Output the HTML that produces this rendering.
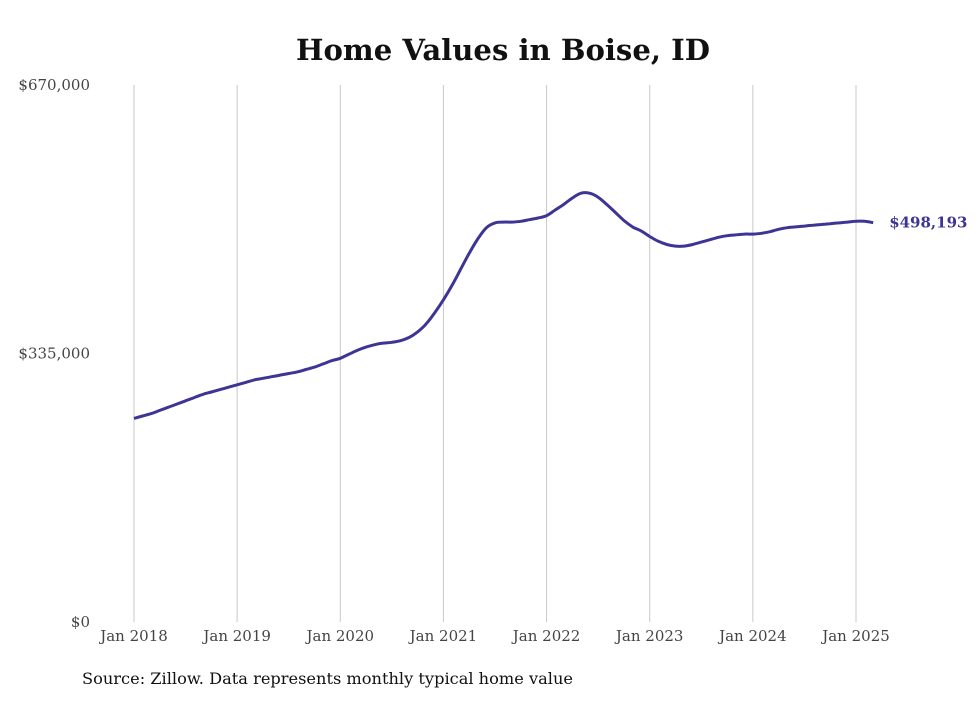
<!DOCTYPE html>
<html><head><meta charset="utf-8"><style>
body{margin:0;background:#fff;}
svg text{font-family:"DejaVu Serif","Liberation Serif",serif;}
</style></head><body>
<svg width="980" height="699" xmlns="http://www.w3.org/2000/svg" id="chart">
<text x="503" y="60" text-anchor="middle" font-size="29" font-weight="bold" fill="#111" textLength="414" lengthAdjust="spacingAndGlyphs">Home Values in Boise, ID</text>
<g id="grid"></g>
<g id="yaxis"></g>
<g id="xaxis"></g>
<g id="series"></g>
<text x="82" y="684" font-size="16" fill="#111" textLength="491" lengthAdjust="spacingAndGlyphs">Source: Zillow. Data represents monthly typical home value</text>
</svg>
<script>
const yTicks=[0,335000,670000];
const yTickLabels=["$0","$335,000","$670,000"];
const xTickLabels=["Jan 2018","Jan 2019","Jan 2020","Jan 2021","Jan 2022","Jan 2023","Jan 2024","Jan 2025"];
const values=[254,257,260,264,268,272,276,280,284,287,290,293,
296,299,302,304,306,308,310,312,315,318,322,326,
329,334,339,343,346,348,349,351,355,362,372,386,
402,420,440,460,478,492,498,499,499,500,502,504,
507,514,521,529,535,535,530,521,511,501,493,488,
481,475,471,469,469,471,474,477,480,482,483,484,
484,485,487,490,492,493,494,495,496,497,498,499,
500,500,498.193];
const lastLabel="$498,193";
const NS="http://www.w3.org/2000/svg";
const x=i=>134+i*(722/84);
const y=v=>622-v*(537/670000);
function mk(t,a,p){const e=document.createElementNS(NS,t);for(const k in a)e.setAttribute(k,a[k]);p.appendChild(e);return e;}
const grid=document.getElementById('grid'),ya=document.getElementById('yaxis'),xa=document.getElementById('xaxis'),se=document.getElementById('series');
xTickLabels.forEach((l,i)=>{
 const gx=x(i*12);
 const ln=mk('line',{x1:gx,x2:gx,y1:85,y2:622,stroke:'#c8c8c8','stroke-width':1},grid);
 
 
 const t=mk('text',{x:gx,y:641,'text-anchor':'middle','font-size':15,fill:'#444'},xa);
 t.textContent=l;
 
 
});
yTicks.forEach((v,i)=>{
 const t=mk('text',{x:90,y:y(v)+5,'text-anchor':'end','font-size':15,fill:'#444'},ya);
 t.textContent=yTickLabels[i];
 
 
});
// smooth path (Catmull-Rom)
const pts=values.map((v,i)=>[x(i),y(v*1000)]);
let d='M'+pts[0][0].toFixed(1)+','+pts[0][1].toFixed(1);
for(let i=0;i<pts.length-1;i++){
 const p0=pts[Math.max(0,i-1)],p1=pts[i],p2=pts[i+1],p3=pts[Math.min(pts.length-1,i+2)];
 const c1=[p1[0]+(p2[0]-p0[0])/6,p1[1]+(p2[1]-p0[1])/6];
 const c2=[p2[0]-(p3[0]-p1[0])/6,p2[1]-(p3[1]-p1[1])/6];
 d+='C'+c1[0].toFixed(1)+','+c1[1].toFixed(1)+' '+c2[0].toFixed(1)+','+c2[1].toFixed(1)+' '+p2[0].toFixed(1)+','+p2[1].toFixed(1);
}
const p=mk('path',{d:d,fill:'none',stroke:'#3d3595','stroke-width':3,'stroke-linejoin':'round'},se);


const li=values.length-1;
const lt=mk('text',{x:x(li)+16,y:y(values[li]*1000)+5,'font-size':15,'font-weight':'bold',fill:'#3d3595'},se);
lt.textContent=lastLabel;


</script>
</body></html>
